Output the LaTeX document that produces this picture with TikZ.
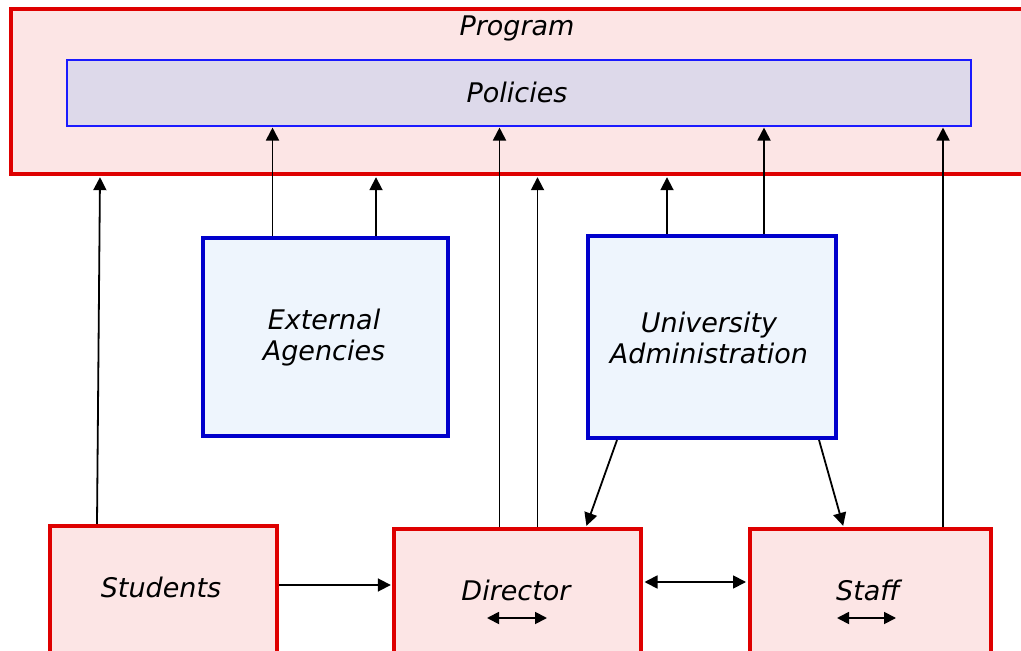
\documentclass[tikz,border=0pt]{standalone}
\usepackage{fontspec}
\setmainfont{DejaVu Sans}
\usetikzlibrary{arrows.meta,calc}
\definecolor{redb}{RGB}{222,0,0}
\definecolor{pinkf}{RGB}{252,229,229}
\definecolor{blueb}{RGB}{0,0,204}
\definecolor{bluef}{RGB}{238,245,253}
\definecolor{polf}{RGB}{221,217,234}
\definecolor{polb}{RGB}{26,26,255}
\begin{document}
\begin{tikzpicture}[x=0.5pt,y=-0.5pt,
  every node/.style={font=\fontsize{13.5}{15.5}\selectfont\itshape, align=center},
  redbox/.style={draw=redb,fill=pinkf,line width=2pt,rectangle,inner sep=0pt},
  bluebox/.style={draw=blueb,fill=bluef,line width=2pt,rectangle,inner sep=0pt},
  polbox/.style={draw=polb,fill=polf,line width=0.75pt,rectangle,inner sep=0pt},
  lbl/.style={inner sep=0pt},
  arr/.style={line width=0.9pt,-{Triangle[length=6.5pt,width=6.5pt]},shorten >=0.6pt},
  arrp/.style={line width=0.9pt,-{Triangle[length=6.5pt,width=6.5pt]},shorten >=0.4pt},
  darr/.style={line width=0.9pt,{Triangle[length=6.5pt,width=6.5pt]}-{Triangle[length=6.5pt,width=6.5pt]},shorten >=1pt,shorten <=1pt},
  sarr/.style={line width=0.9pt,{Triangle[length=6pt,width=6pt]}-{Triangle[length=6pt,width=6pt]}}
]
\useasboundingbox (0,0) rectangle (1021,651);
\clip (0,0) rectangle (1021,651);

% boxes
\node[redbox, minimum width=514.75pt, minimum height=82.25pt] (prog) at (525.25,91.75) {};
\node[lbl] (progt) at (517,28) {Program};
\node[polbox, minimum width=452pt, minimum height=33pt] (pol) at (519,93) {};
\node[lbl] (polt) at (517,92) {Policies};

\node[bluebox, minimum width=122.5pt, minimum height=99pt] (ext) at (325,337) {};
\node[lbl] (extt) at (324,337.5) {External\\Agencies};
\node[bluebox, minimum width=124pt, minimum height=101pt] (uni) at (711.5,337) {};
\node[lbl] (unit) at (709,337.5) {University\\Administration};

\node[redbox, minimum width=113.5pt, minimum height=87pt] (stu) at (163.5,613) {};
\node[lbl] (stut) at (161,587) {Students};
\node[redbox, minimum width=123.25pt, minimum height=85.5pt] (dir) at (517.25,614.5) {};
\node[lbl] (dirt) at (516,590) {Director};
\node[redbox, minimum width=120.25pt, minimum height=85.5pt] (sta) at (870.25,614.5) {};
\node[lbl] (stat) at (868,590) {Staff};

% helper coordinates
\coordinate (xa) at (272.5,0);
\coordinate (xb) at (376,0);
\coordinate (xc) at (499.5,0);
\coordinate (xd) at (537.5,0);
\coordinate (xe) at (667,0);
\coordinate (xf) at (764,0);
\coordinate (xg) at (943,0);
\coordinate (xs1) at (97,0);
\coordinate (xs2) at (100,0);
\coordinate (xu1) at (617,0);
\coordinate (xu2) at (586,0);
\coordinate (xu3) at (819,0);
\coordinate (xu4) at (843.5,0);
\coordinate (ya) at (0,585);
\coordinate (yb) at (0,582);

% arrows
\draw[arr] (stu.north -| xs1) -- (prog.south -| xs2);
\draw[arrp] (ext.north -| xa) -- (pol.south -| xa);
\draw[arr] (ext.north -| xb) -- (prog.south -| xb);
\draw[arrp] (dir.north -| xc) -- (pol.south -| xc);
\draw[arr] (dir.north -| xd) -- (prog.south -| xd);
\draw[arr] (uni.north -| xe) -- (prog.south -| xe);
\draw[arrp] (uni.north -| xf) -- (pol.south -| xf);
\draw[arrp] (sta.north -| xg) -- (pol.south -| xg);
\draw[arr] (uni.south -| xu1) -- (dir.north -| xu2);
\draw[arr] (uni.south -| xu3) -- (sta.north -| xu4);
\draw[arr] (stu.east |- ya) -- (dir.west |- ya);
\draw[darr] (dir.east |- yb) -- (sta.west |- yb);

% small double arrows
\coordinate (d1) at (487,618);
\coordinate (d2) at (547,618);
\coordinate (s1) at (837,618);
\coordinate (s2) at (896,618);
\draw[sarr] (d1) -- (d2);
\draw[sarr] (s1) -- (s2);
\end{tikzpicture}
\end{document}
